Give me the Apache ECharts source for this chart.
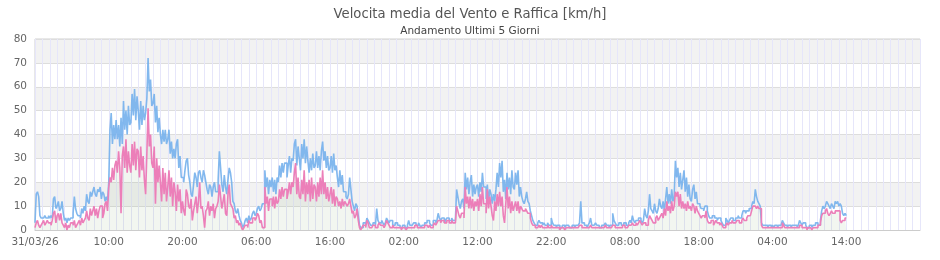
<!DOCTYPE html>
<html>
<head>
<meta charset="utf-8">
<script src="https://cdn.jsdelivr.net/npm/echarts@6/dist/echarts.min.js"></script>
<style>
html,body{margin:0;padding:0;background:#fff;}
#chart{width:940px;height:260px;}
</style>
</head>
<body>
<div id="chart"></div>
<script>
const TITLE = 'Velocita media del Vento e Raffica [km/h]';
const SUBTITLE = 'Andamento Ultimi 5 Giorni';
const xLabels = ['31/03/26','10:00','20:00','06:00','16:00','02:00','12:00','22:00','08:00','18:00','04:00','14:00'];
const X_MAX_HOURS = 120;
const STEP_H = 1/6; // one sample every 10 minutes

// Raffica (gust), km/h — 6 samples per hour, one line = 5 hours
const gust = [
 3,15,16,14,6,5, 5,5,6,5,5,6, 5,6,5,13,14,9, 10,12,8,9,12,7, 4,5,3,5,4,5,
 5,7,14,9,7,6, 6,5,9,7,10,8, 15,12,11,16,14,16, 18,15,14,17,16,18, 13,16,15,12,14,12,
 20,42,49,36,44,38, 46,38,44,35,47,36, 54,42,50,40,52,44, 45,57,48,59,46,56, 50,42,54,44,52,46,
 49,55,72,58,63,52, 53,57,45,52,41,47, 40,36,42,37,42,36, 38,42,32,37,30,34, 30,36,38,26,31,22,
 22,20,25,29,30,23, 20,15,14,19,24,22, 18,24,25,22,20,25, 23,20,17,15,19,18, 14,18,20,16,16,21,
 33,26,19,16,23,18, 15,21,26,24,20,12, 11,8,7,9,6,4, 3,1,2,4,5,3, 6,4,5,7,8,6,
 7,9,10,8,9,11, 11,25,18,22,15,21, 18,22,16,21,15,22, 20,27,22,28,24,28, 28,22,27,31,24,30,
 29,36,38,27,35,30, 25,36,30,38,28,35, 29,24,30,25,32,26, 27,33,26,31,25,33, 37,29,33,26,31,25,
 26,31,24,32,25,27, 22,18,25,19,23,16, 16,14,13,15,22,17, 12,10,8,11,10,6, 2,1,1,3,3,2,
 5,4,3,2,2,3, 3,2,9,4,3,3, 4,3,2,3,5,4, 3,4,4,2,2,3, 3,2,2,1,1,2,
 2,1,1,2,4,2, 2,2,3,3,2,2, 3,2,1,2,2,3, 3,4,4,3,2,2, 4,4,3,4,7,5,
 4,5,5,3,4,5, 5,4,4,5,4,4, 4,17,14,11,9,12, 13,9,24,17,22,15, 20,23,14,19,15,18,
 19,14,20,16,24,18, 18,13,19,12,17,15, 11,15,12,17,24,18, 28,22,29,16,21,13, 24,17,22,15,25,18,
 17,24,19,25,14,18, 14,12,11,13,16,12, 11,8,6,4,3,2, 2,3,4,3,3,2, 3,2,2,3,2,2,
 5,3,2,2,1,2, 2,1,1,2,2,1, 2,2,2,1,1,2, 2,1,2,2,2,3, 12,3,3,2,2,1,
 2,3,5,2,2,2, 3,2,2,1,1,2, 2,2,3,2,2,1, 2,2,7,4,3,2, 2,3,3,2,2,3,
 3,2,2,3,4,3, 6,4,3,4,4,5, 5,4,3,4,9,6, 5,8,15,9,8,7, 11,8,7,9,13,10,
 9,12,8,13,18,11, 15,11,17,12,14,29, 22,26,18,24,17,21, 25,16,22,14,19,13, 12,17,19,13,16,11,
 11,10,9,9,8,10, 10,8,6,5,5,6, 6,5,5,4,5,5, 4,3,2,2,5,4, 3,4,5,5,4,4,
 5,5,6,5,5,6, 8,8,7,8,8,9, 9,10,12,11,17,14, 12,11,10,3,2,2, 2,2,1,2,2,1,
 2,1,2,2,1,2, 2,2,4,3,2,2, 1,2,2,1,2,2, 2,2,1,2,4,3, 2,3,3,2,1,1,
 2,2,1,2,2,3, 3,2,2,4,8,10, 9,10,12,11,10,9, 11,10,9,12,11,12, 10,11,10,7,6,7,
 6
];

// Velocita media (mean wind), km/h — 6 samples per hour, one line = 5 hours
const wind = [
 1,3,4,2,1,2, 3,4,2,3,4,3, 3,2,4,7,8,3, 6,7,4,7,3,2, 1,3,0,2,1,3,
 3,2,4,1,2,3, 4,2,5,3,4,5, 8,5,4,9,6,8, 10,6,9,5,8,10, 10,5,7,11,12,8,
 18,22,20,26,21,27, 29,24,33,26,7,31, 35,26,38,24,33,27, 24,36,27,37,25,34, 33,22,35,25,31,21,
 15,32,51,35,40,28, 26,35,11,30,20,27, 20,12,26,15,24,12, 18,25,14,22,10,20, 16,8,19,12,17,7,
 12,8,6,17,15,10, 9,13,4,8,11,14, 7,12,20,9,10,6, 1,8,9,12,6,10, 8,11,5,9,10,12,
 19,14,9,12,15,7, 6,15,19,11,10,9, 5,6,3,4,2,3, 1,0,1,2,2,1, 4,3,3,5,5,4,
 5,7,6,3,4,1, 1,18,11,14,8,13, 13,10,14,9,14,11, 12,17,13,18,14,17, 17,13,16,20,15,20,
 18,24,28,15,22,14, 13,21,15,25,12,20, 15,21,12,22,13,19, 18,12,20,14,22,15, 25,15,20,13,18,12,
 15,18,11,17,10,14, 13,10,12,9,13,10, 12,11,10,11,13,10, 7,8,5,6,9,4, 1,0,1,2,2,1,
 4,3,1,1,1,2, 2,1,1,2,3,2, 2,2,1,2,4,3, 2,1,1,2,1,1, 1,1,1,1,0,1,
 1,1,0,1,1,1, 1,1,1,2,2,1, 1,1,1,1,1,2, 2,2,1,2,1,1, 2,3,2,3,4,4,
 3,4,4,3,3,4, 4,3,3,4,3,3, 3,10,8,6,5,7, 7,5,18,11,14,9, 14,9,13,8,12,10,
 13,8,15,10,18,11, 11,7,17,9,14,10, 6,4,12,8,15,10, 16,10,14,6,3,11, 18,9,14,7,12,8,
 10,12,8,12,7,10, 9,8,8,9,8,7, 7,5,3,2,2,1, 1,1,2,1,2,1, 1,1,1,2,1,1,
 2,1,1,1,1,1, 1,0,1,1,1,0, 1,1,1,1,1,1, 1,1,1,1,1,2, 2,1,1,1,1,1,
 1,1,2,1,1,1, 1,1,1,1,1,1, 1,1,2,1,1,1, 1,1,2,2,1,1, 1,1,1,1,2,2,
 1,1,1,2,2,2, 3,2,2,3,2,3, 4,3,2,3,3,2, 2,4,6,5,4,3, 3,5,6,4,5,6,
 7,5,9,6,12,8, 10,7,12,8,10,16, 14,16,10,15,9,12, 9,11,8,12,9,10, 8,11,10,7,10,8,
 7,6,5,6,6,5, 8,4,3,3,4,4, 2,3,4,3,3,2, 3,2,1,1,2,3, 2,3,3,4,3,3,
 3,4,4,3,3,4, 5,4,4,5,6,6, 6,8,10,10,10,9, 10,9,9,2,1,1, 1,1,1,1,1,1,
 1,1,1,1,1,1, 1,1,3,2,1,1, 1,1,1,1,1,1, 1,1,1,1,2,2, 1,1,1,1,0,1,
 1,1,0,1,1,1, 1,2,2,3,6,7, 7,8,9,7,6,7, 8,7,7,8,8,8, 8,4,3,4,4,5,
 5
];

const FONT = 'DejaVu Sans';
const toPairs = arr => arr.map((v, i) => [i * STEP_H, v]);

const chart = echarts.init(document.getElementById('chart'), null, {renderer: 'canvas'});
chart.setOption({
  animation: false,
  backgroundColor: '#ffffff',
  title: [
    {text: TITLE, left: 'center', top: 3,
     textStyle: {fontFamily: FONT, fontSize: 13.2, fontWeight: 'normal', color: '#555'}},
    {text: SUBTITLE, left: 'center', top: 21,
     textStyle: {fontFamily: FONT, fontSize: 10.5, fontWeight: 'normal', color: '#444'}}
  ],
  grid: {left: 35, right: 20, top: 39, bottom: 30, show: true, borderColor: '#d0d0d0', borderWidth: 1},
  xAxis: {
    type: 'value', min: 0, max: X_MAX_HOURS, interval: 1, z: 1,
    axisLine: {show: true, lineStyle: {color: '#cccccc'}},
    axisTick: {show: false},
    axisLabel: {
      color: '#666', fontFamily: FONT, fontSize: 10.5, margin: 7,
      formatter: v => {
        const h = Math.round(v);
        if (h % 10 !== 0) return '';
        return xLabels[h / 10] || '';
      }
    },
    splitLine: {show: true, lineStyle: {color: '#e6e6fa', width: 1}}
  },
  yAxis: {
    type: 'value', min: 0, max: 80, interval: 10, z: 0,
    axisLine: {show: false},
    axisTick: {show: false},
    axisLabel: {color: '#666', fontFamily: FONT, fontSize: 10.5, margin: 8},
    splitLine: {show: true, lineStyle: {color: '#dddddd'}},
    splitArea: {show: true, areaStyle: {color: ['#ffffff', '#f2f2f2']}}
  },
  series: [
    {
      name: 'Raffica', type: 'line', step: 'end', showSymbol: false, symbol: 'none',
      data: toPairs(gust),
      lineStyle: {color: '#74b0ec', width: 1.6, opacity: 0.9},
      z: 2
    },
    {
      name: 'Velocita media', type: 'line', step: 'end', showSymbol: false, symbol: 'none',
      data: toPairs(wind),
      lineStyle: {color: '#ec7fb9', width: 1.6},
      areaStyle: {color: 'rgba(135,170,115,0.15)'},
      z: 3
    }
  ]
});
</script>
</body>
</html>
